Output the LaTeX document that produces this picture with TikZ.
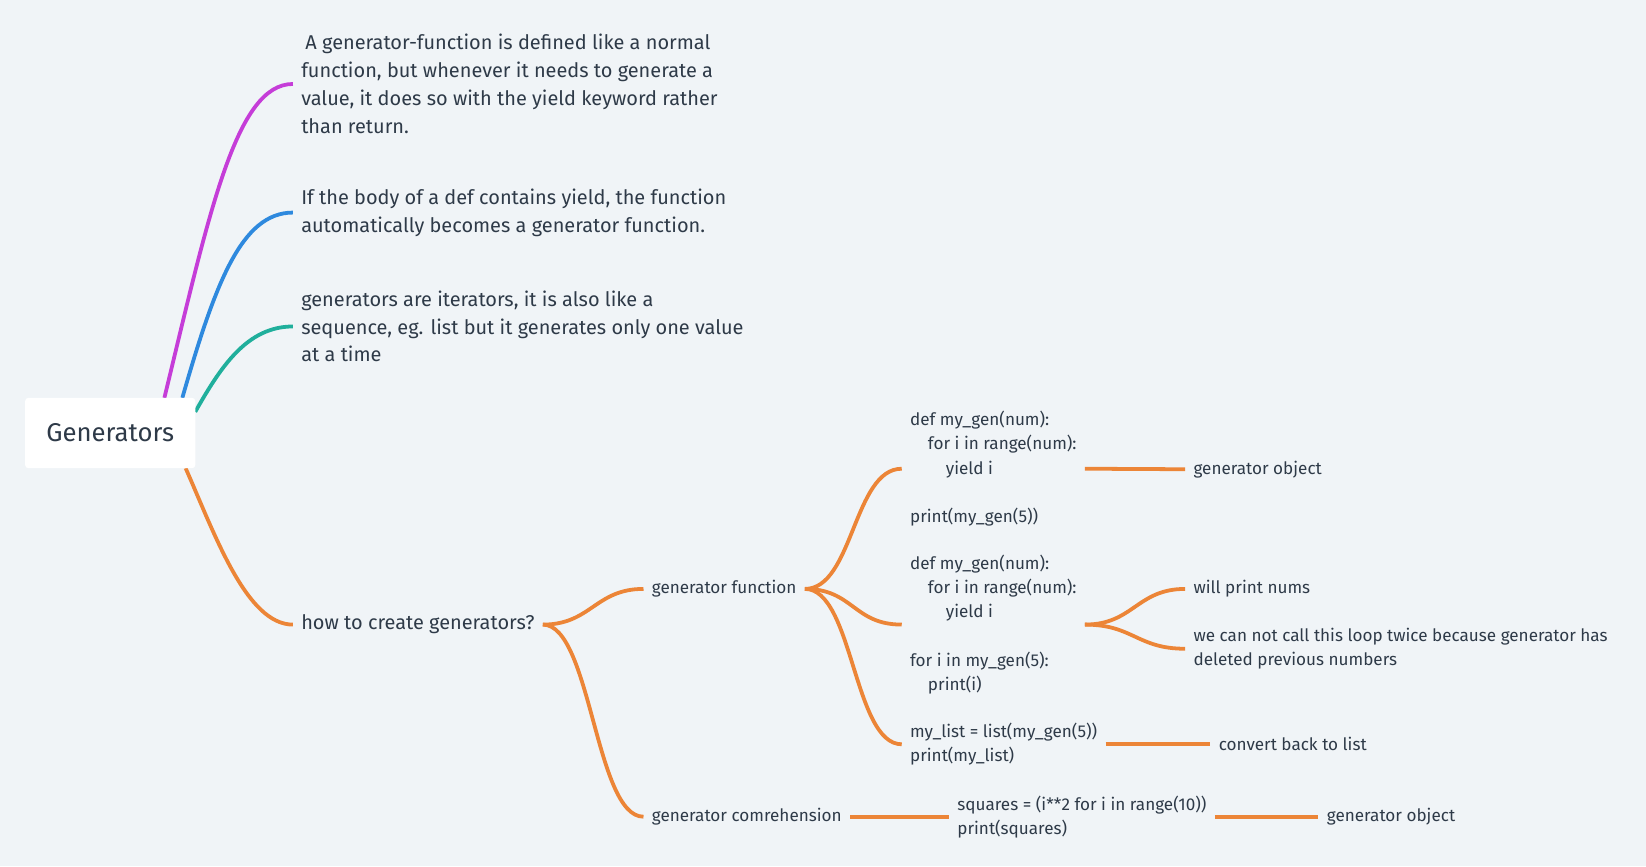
\documentclass[tikz,border=0pt]{standalone}
\usepackage{fontspec}
\setmainfont{Fira Sans}
\usetikzlibrary{calc,backgrounds}
\definecolor{bgcol}{HTML}{F0F4F7}
\definecolor{txt}{HTML}{2E3A48}
\definecolor{cmag}{HTML}{C53DD8}
\definecolor{cblue}{HTML}{2E89DE}
\definecolor{cteal}{HTML}{20AF9C}
\definecolor{corange}{HTML}{EC8537}
\begin{document}
\begin{tikzpicture}[x=1pt,y=-1pt]
    \tikzstyle{every node}=[text=txt, inner xsep=8pt, inner ysep=0pt, outer sep=0pt, align=left, anchor=west]
    \tikzstyle{topic}=[font=\fontsize{19}{26.5}\selectfont]
    \tikzstyle{sub}=[font=\fontsize{16.3}{23}\selectfont]
    \tikzstyle{link}=[line width=3.6pt, corange]
    \def\ind{\hspace*{17pt}}
    \useasboundingbox (0,0) rectangle (1568,825);
    % first level
    \node[anchor=center, fill=white, rounded corners=3pt, minimum width=162pt, minimum height=67pt,
      font=\fontsize{24.5}{28}\selectfont] (gen) at (105,412.5) {Generators};
    \node[topic] (def) at (279,80) {\hspace*{4pt}A generator-function is defined like a normal\\function, but whenever it needs to generate a\\value, it does so with the yield keyword rather\\than return.};
    \node[topic] (body) at (279,202.5) {If the body of a def contains yield, the function\\automatically becomes a generator function.};
    \node[topic] (iter) at (279,311) {generators are iterators, it is also like a\\sequence, eg. list but it generates only one value\\at a time};
    \node[topic] (how) at (279,595) {how to create generators?};
    % second level
    \node[sub] (gfun) at (613,561) {generator function};
    \node[sub] (gcomp) at (613,778) {generator comrehension};
    \node[sub] (code1) at (859,446.5) {def my\_gen(num):\\\ind for i in range(num):\\\ind\ind yield i\\[23pt]print(my\_gen(5))};
    \node[sub] (code2) at (859,595) {def my\_gen(num):\\\ind for i in range(num):\\\ind\ind yield i\\[23pt]for i in my\_gen(5):\\\ind print(i)};
    \node[sub] (code3) at (859,709) {my\_list = list(my\_gen(5))\\print(my\_list)};
    \node[sub] (sq) at (904,778) {squares = (i**2 for i in range(10))\\print(squares)};
    % third level
    \node[sub] (obj1) at (1129,447) {generator object};
    \node[sub] (nums) at (1129,561) {will print nums};
    \node[sub] (twice) at (1129,618) {we can not call this loop twice because generator has\\deleted previous numbers};
    \node[sub] (back) at (1153,709) {convert back to list};
    \node[sub] (obj2) at (1256,778) {generator object};
    % connectors
    \begin{scope}[on background layer]
    \fill[bgcol] (0,0) rectangle (1568,825);
    \draw[link, cmag] (gen.33) .. controls (200,200) and (225,80) .. (def.west);
    \draw[link, cblue] (gen.26) .. controls (205,270) and (230,202.5) .. (body.west);
    \draw[link, cteal] (gen.14) .. controls (210,350) and (235,311) .. (iter.west);
    \draw[link] (gen.-25) .. controls (205,510) and (235,595) .. (how.west);
    \end{scope}
    \draw[link] (how.east) .. controls +(46,0) and +(-46,0) .. (gfun.west);
    \draw[link] (how.east) .. controls +(46,0) and +(-46,0) .. (gcomp.west);
    \draw[link] (gfun.east) .. controls +(46,0) and +(-46,0) .. (code1.west);
    \draw[link] (gfun.east) .. controls +(46,0) and +(-46,0) .. (code2.west);
    \draw[link] (gfun.east) .. controls +(46,0) and +(-46,0) .. (code3.west);
    \draw[link] (code2.east) .. controls +(46,0) and +(-46,0) .. (nums.west);
    \draw[link] (code2.east) .. controls +(46,0) and +(-46,0) .. (twice.west);
    \draw[link] (code1.east) -- (obj1.west);
    \draw[link] (code3.east) -- (back.west);
    \draw[link] (gcomp.east) -- (sq.west);
    \draw[link] (sq.east) -- (obj2.west);
\end{tikzpicture}
\end{document}
